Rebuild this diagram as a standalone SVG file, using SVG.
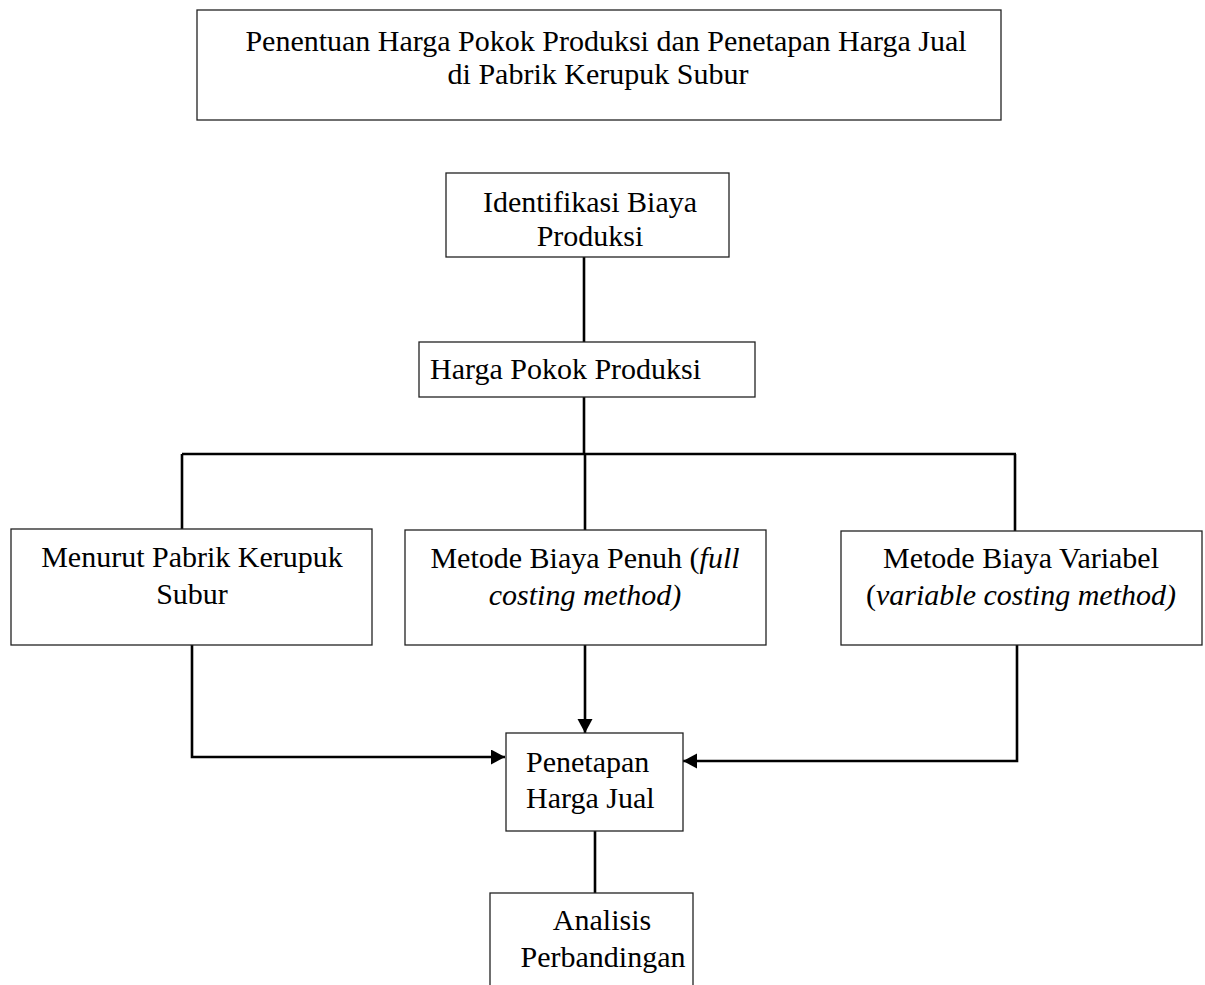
<svg xmlns="http://www.w3.org/2000/svg" width="1205" height="985" viewBox="0 0 1205 985">
<style>
.box{fill:#fff;stroke:#222;stroke-width:1.3}
.t{font-family:"Liberation Serif","Times New Roman",serif;font-size:30px;fill:#000}
.m{text-anchor:middle}
.i{font-style:italic}
.c{fill:none;stroke:#000;stroke-width:2.6}
</style>
<defs>
<marker id="ah" markerWidth="16" markerHeight="16" refX="14" refY="7.5" orient="auto" markerUnits="userSpaceOnUse">
<path d="M0,0 L14,7.5 L0,15 Z" fill="#000"/>
</marker>
</defs>
<rect width="1205" height="985" fill="#fff"/>
<g id="connectors">
<path class="c" d="M584,257 V342"/>
<path class="c" d="M584,397 V454"/>
<path class="c" d="M182,454 H1016"/>
<path class="c" d="M182,454 V529"/>
<path class="c" d="M585,454 V530"/>
<path class="c" d="M1015,454 V531"/>
<path class="c" d="M192,645 V757 H505" marker-end="url(#ah)"/>
<path class="c" d="M585,645 V733" marker-end="url(#ah)"/>
<path class="c" d="M1017,645 V761 H683" marker-end="url(#ah)"/>
<path class="c" d="M595,831 V893"/>
</g>
<g id="title">
<rect class="box" x="197" y="10" width="804" height="110"/>
<text class="t m" x="606" y="51">Penentuan Harga Pokok Produksi dan Penetapan Harga Jual</text>
<text class="t m" x="598" y="84">di Pabrik Kerupuk Subur</text>
</g>
<g id="identifikasi">
<rect class="box" x="446" y="173" width="283" height="84"/>
<text class="t m" x="590" y="212">Identifikasi Biaya</text>
<text class="t m" x="590" y="246">Produksi</text>
</g>
<g id="hpp">
<rect class="box" x="419" y="342" width="336" height="55"/>
<text class="t" x="430" y="379">Harga Pokok Produksi</text>
</g>
<g id="menurut">
<rect class="box" x="11" y="529" width="361" height="116"/>
<text class="t m" x="192" y="567">Menurut Pabrik Kerupuk</text>
<text class="t m" x="192" y="604">Subur</text>
</g>
<g id="fullcosting">
<rect class="box" x="405" y="530" width="361" height="115"/>
<text class="t m" x="585" y="568">Metode Biaya Penuh (<tspan class="i">full</tspan></text>
<text class="t m i" x="585" y="605">costing method)</text>
</g>
<g id="variablecosting">
<rect class="box" x="841" y="531" width="361" height="114"/>
<text class="t m" x="1021" y="568">Metode Biaya Variabel</text>
<text class="t m" x="1021" y="605">(<tspan class="i">variable costing method)</tspan></text>
</g>
<g id="penetapan">
<rect class="box" x="506" y="733" width="177" height="98"/>
<text class="t" x="526" y="772">Penetapan</text>
<text class="t" x="526" y="808">Harga Jual</text>
</g>
<g id="analisis">
<rect class="box" x="490" y="893" width="203" height="110"/>
<text class="t m" x="602" y="930">Analisis</text>
<text class="t m" x="603" y="967">Perbandingan</text>
</g>
</svg>
